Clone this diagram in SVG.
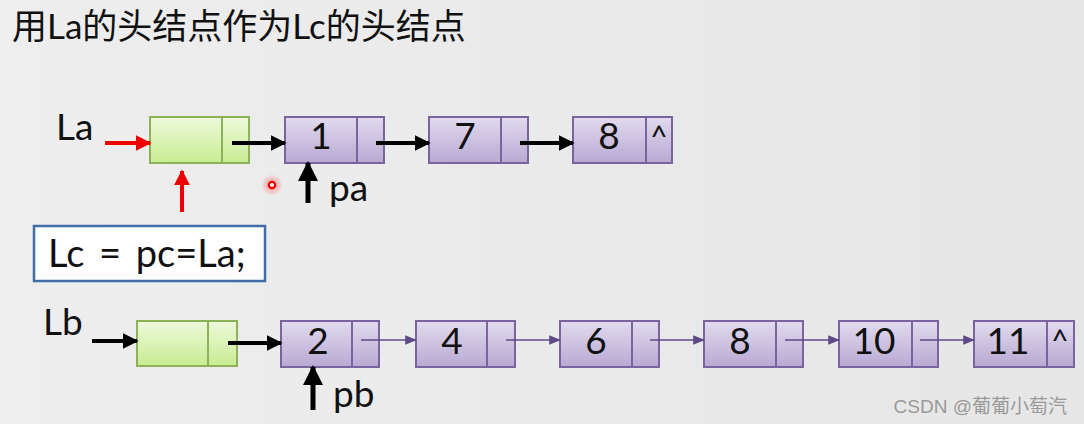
<svg xmlns="http://www.w3.org/2000/svg" width="1084" height="424" viewBox="0 0 1084 424">
<defs>
<linearGradient id="bg" x1="0" y1="0" x2="1" y2="0"><stop offset="0" stop-color="#eeeeee"/><stop offset="1" stop-color="#e6e6e6"/></linearGradient>
<linearGradient id="pg" x1="0" y1="0" x2="0" y2="1"><stop offset="0" stop-color="#e2dbee"/><stop offset="1" stop-color="#b8a8d3"/></linearGradient>
<linearGradient id="gg" x1="0" y1="0" x2="0" y2="1"><stop offset="0" stop-color="#eefadb"/><stop offset="1" stop-color="#c8ec92"/></linearGradient>
<radialGradient id="halo"><stop offset="0" stop-color="#ff4a4a" stop-opacity="0.6"/><stop offset="1" stop-color="#ff4a4a" stop-opacity="0"/></radialGradient>
<marker id="ab" viewBox="0 0 10 10" refX="9" refY="5" markerWidth="4" markerHeight="4" orient="auto" markerUnits="strokeWidth"><path d="M0,0 L10,5 L0,10 z" fill="#000"/></marker>
<marker id="ar" viewBox="0 0 10 10" refX="9" refY="5" markerWidth="4" markerHeight="4" orient="auto" markerUnits="strokeWidth"><path d="M0,0 L10,5 L0,10 z" fill="#ee0000"/></marker>
<marker id="ap" viewBox="0 0 10 10" refX="9" refY="5" markerWidth="8" markerHeight="8" orient="auto" markerUnits="strokeWidth"><path d="M0,1 L10,5 L0,9 z" fill="#5e4a86"/></marker>
<style>
.t{font-family:Lato,"Open Sans","Noto Sans CJK SC",sans-serif;fill:#111}
.n{font-size:37px;text-anchor:middle}
.p{fill:url(#pg);stroke:#7a64a0;stroke-width:2}
.g{fill:url(#gg);stroke:#8db25a;stroke-width:2}
.pd{stroke:#7a64a0;stroke-width:2}
.gd{stroke:#8db25a;stroke-width:2}
.bk{stroke:#000;stroke-width:4;fill:none;marker-end:url(#ab)}
.rd{stroke:#ee0000;stroke-width:4;fill:none;marker-end:url(#ar)}
.th{stroke:#5e4a86;stroke-width:1.5;fill:none;marker-end:url(#ap)}
.up{stroke:#000;stroke-width:5;fill:none;marker-end:url(#ab)}
</style>
</defs>
<rect width="1084" height="424" fill="url(#bg)"/>
<text class="t" x="12" y="39" font-size="35">用La的头结点作为Lc的头结点</text>

<g id="la-label"><text class="t" x="56" y="140" font-size="37">La</text></g>
<g id="a-head"><rect class="g" x="150" y="117" width="99" height="46"/><line class="gd" x1="222" y1="117" x2="222" y2="163"/></g>
<g id="a1"><rect class="p" x="285" y="117" width="99" height="46"/><line class="pd" x1="357" y1="117" x2="357" y2="163"/><text class="t n" x="321" y="149">1</text></g>
<g id="a7"><rect class="p" x="429" y="117" width="99" height="46"/><line class="pd" x1="501" y1="117" x2="501" y2="163"/><text class="t n" x="465" y="149">7</text></g>
<g id="a8"><rect class="p" x="573" y="117" width="99" height="46"/><line class="pd" x1="646" y1="117" x2="646" y2="163"/><text class="t n" x="609" y="149">8</text><text class="t" x="659" y="148" font-size="30" text-anchor="middle">^</text></g>

<g id="lc-box"><rect x="34" y="226" width="231" height="55" fill="#fff" stroke="#3f6ea8" stroke-width="2.5"/><text class="t" x="48" y="267" font-size="38" word-spacing="5">Lc = pc=La;</text></g>

<g id="lb-label"><text class="t" x="43" y="335" font-size="37">Lb</text></g>
<g id="b-head"><rect class="g" x="137" y="321" width="100" height="45"/><line class="gd" x1="208" y1="321" x2="208" y2="366"/></g>
<g id="b2"><rect class="p" x="281" y="321" width="98" height="46"/><line class="pd" x1="352" y1="321" x2="352" y2="367"/><text class="t n" x="318" y="354">2</text></g>
<g id="b4"><rect class="p" x="416" y="321" width="99" height="46"/><line class="pd" x1="487" y1="321" x2="487" y2="367"/><text class="t n" x="452" y="354">4</text></g>
<g id="b6"><rect class="p" x="560" y="321" width="99" height="46"/><line class="pd" x1="632" y1="321" x2="632" y2="367"/><text class="t n" x="596" y="354">6</text></g>
<g id="b8"><rect class="p" x="704" y="321" width="99" height="46"/><line class="pd" x1="776" y1="321" x2="776" y2="367"/><text class="t n" x="740" y="354">8</text></g>
<g id="b10"><rect class="p" x="839" y="321" width="99" height="46"/><line class="pd" x1="912" y1="321" x2="912" y2="367"/><text class="t n" x="874" y="354">10</text></g>
<g id="b11"><rect class="p" x="974" y="321" width="100" height="46"/><line class="pd" x1="1047" y1="321" x2="1047" y2="367"/><text class="t n" x="1008" y="354">11</text><text class="t" x="1060" y="352" font-size="30" text-anchor="middle">^</text></g>

<g id="connectors">
<line class="rd" x1="105" y1="143" x2="150" y2="143"/>
<line class="rd" x1="182" y1="212" x2="182" y2="171"/>
<line class="bk" x1="232" y1="143" x2="285" y2="143"/>
<line class="bk" x1="376" y1="143" x2="429" y2="143"/>
<line class="bk" x1="520" y1="143" x2="573" y2="143"/>
<line class="up" x1="308" y1="203" x2="308" y2="163"/>
<line class="bk" x1="92" y1="341" x2="137" y2="341"/>
<line class="bk" x1="228" y1="343" x2="281" y2="343"/>
<line class="th" x1="361" y1="340" x2="416" y2="340"/>
<line class="th" x1="506" y1="340" x2="560" y2="340"/>
<line class="th" x1="650" y1="340" x2="704" y2="340"/>
<line class="th" x1="785" y1="340" x2="839" y2="340"/>
<line class="th" x1="920" y1="340" x2="974" y2="340"/>
<line class="up" x1="313" y1="410" x2="313" y2="367"/>
</g>
<g id="pa-label"><text class="t" x="329" y="201" font-size="37">pa</text></g>
<g id="pb-label"><text class="t" x="333" y="407" font-size="37">pb</text></g>
<g id="cursor"><circle cx="272" cy="185" r="11" fill="url(#halo)"/><circle cx="272" cy="185" r="3.2" fill="#fff" stroke="#ee0000" stroke-width="2.2"/></g>
<text x="1067" y="413" font-family="'Liberation Sans','Noto Sans CJK SC',sans-serif" font-size="19" fill="#9a9a9a" text-anchor="end">CSDN @葡葡小萄汽</text>
</svg>
